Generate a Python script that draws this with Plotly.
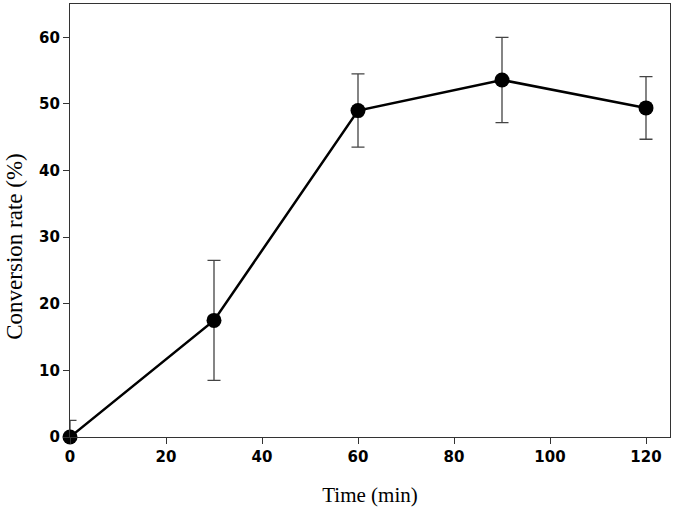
import plotly.graph_objects as go

time_min = [0, 30, 60, 90, 120]
conversion = [0, 17.5, 49.0, 53.6, 49.4]
error = [2.5, 9.0, 5.5, 6.4, 4.7]
x_ticks = [0, 20, 40, 60, 80, 100, 120]
y_ticks = [0, 10, 20, 30, 40, 50, 60]

fig = go.Figure()
fig.add_trace(go.Scatter(
    x=time_min, y=conversion,
    mode="lines+markers",
    line=dict(color="black", width=2.5),
    marker=dict(color="black", size=15),
    error_y=dict(type="data", array=error, visible=True,
                 color="#444444", thickness=1.3, width=6.5),
    cliponaxis=False,
    showlegend=False,
))

axis_common = dict(
    showgrid=False, zeroline=False,
    showline=True, linecolor="#333333", linewidth=1.3, mirror=True,
    ticks="outside", ticklen=6, tickwidth=1.3, tickcolor="#333333",
    tickfont=dict(family="DejaVu Sans", size=15, color="black", weight="bold"),
)

serif = "Liberation Serif, Times New Roman, serif"

fig.update_layout(
    width=674, height=512,
    margin=dict(l=70, r=4, t=4, b=75),
    paper_bgcolor="white", plot_bgcolor="white",
    xaxis=dict(range=[0, 125], tickvals=x_ticks,
               title=dict(text="Time (min)", standoff=22,
                          font=dict(family=serif, size=21, color="black")),
               **axis_common),
    yaxis=dict(range=[0, 65], tickvals=y_ticks, **axis_common),
    annotations=[dict(
        text="Conversion rate (%)", textangle=-90,
        xref="paper", yref="paper", x=-0.117, y=0.44,
        xanchor="left", yanchor="middle", showarrow=False,
        font=dict(family=serif, size=23, color="black"),
    )],
)

fig.write_html("out.html", config={"displayModeBar": False},
               post_script="document.body.style.margin='0px';document.body.style.overflow='hidden';")
